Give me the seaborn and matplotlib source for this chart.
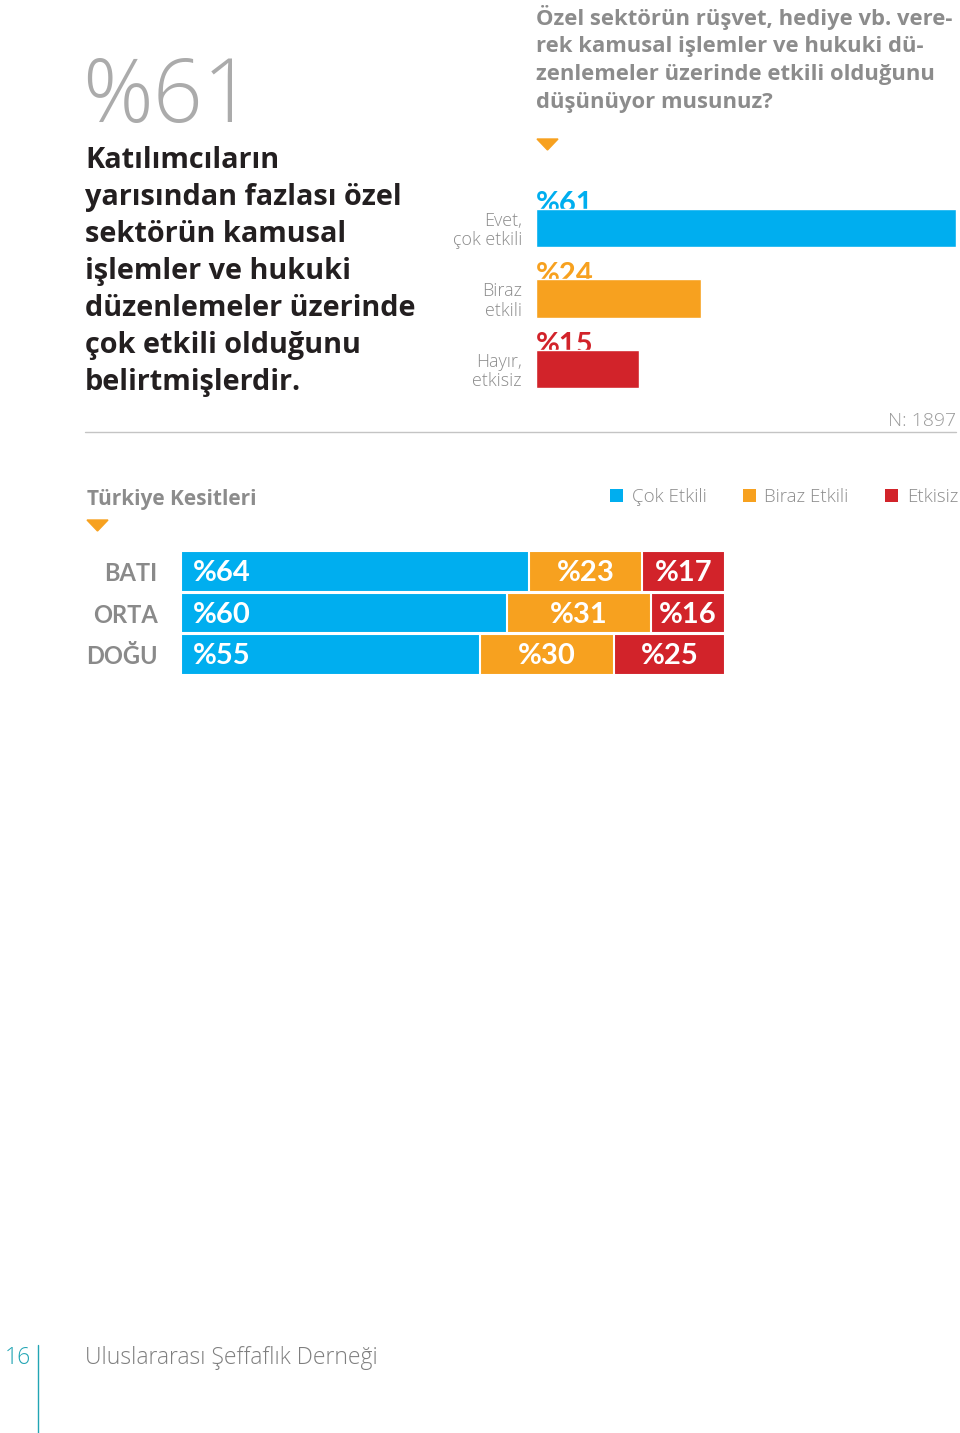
import matplotlib
matplotlib.use("Agg")
import matplotlib.pyplot as plt
import seaborn as sns
import numpy as np
import pandas as pd
from matplotlib.patches import Polygon, Patch
from matplotlib.lines import Line2D

# ---------------- data ----------------
q_categories = ["Evet,\nçok etkili", "Biraz\netkili", "Hayır,\netkisiz"]
q_values = [61, 24, 15]
regions = ["BATI", "ORTA", "DOĞU"]
cok_etkili = [64, 60, 55]
biraz_etkili = [23, 31, 30]
etkisiz = [17, 16, 25]
legend_labels = ["Çok Etkili", "Biraz Etkili", "Etkisiz"]
sample_size = 1897
headline_value = 61

# ---------------- style ----------------
BLUE = "#00AEEF"
ORANGE = "#F7A11F"
RED = "#D2232A"
GRAY = "#8C8C8C"
LIGHTGRAY = "#ABABAB"
TEAL = "#22A5B4"
DARK = "#231F20"

W, H = 960, 1433
sns.set_theme(style="white")
plt.rcParams["font.family"] = ["Open Sans", "DejaVu Sans"]
NARROW = ["Lato", "DejaVu Sans"]
fig = plt.figure(figsize=(W / 100, H / 100), dpi=100)


def fx(x):
    return x / W


def fy(y):
    return 1 - y / H


def rect(l, t, r, b):
    return [l / W, 1 - b / H, (r - l) / W, (b - t) / H]


# ---------------- left headline ----------------
fig.text(fx(82), fy(122), f"%{headline_value}", fontsize=63, color=LIGHTGRAY,
         fontweight="light", ha="left", va="baseline")
para = ["Katılımcıların", "yarısından fazlası özel", "sektörün kamusal",
        "işlemler ve hukuki", "düzenlemeler üzerinde", "çok etkili olduğunu",
        "belirtmişlerdir."]
for i, line in enumerate(para):
    fig.text(fx(85), fy(168 + 37 * i), line, fontsize=20.8, color=DARK,
             fontweight="bold", ha="left", va="baseline")

# ---------------- question ----------------
question = ["Özel sektörün rüşvet, hediye vb. vere-",
            "rek kamusal işlemler ve hukuki dü-",
            "zenlemeler üzerinde etkili olduğunu",
            "düşünüyor musunuz?"]
for i, line in enumerate(question):
    fig.text(fx(536), fy(24.5 + 27.7 * i), line, fontsize=15.8, color=GRAY,
             fontweight="bold", ha="left", va="baseline")

# triangles (decoration)
fig.patches.append(Polygon([[fx(537), fy(139)], [fx(558), fy(139)], [fx(547.5), fy(150)]],
                           closed=True, color=ORANGE, transform=fig.transFigure))
fig.patches.append(Polygon([[fx(87), fy(520)], [fx(108), fy(520)], [fx(97.5), fy(531)]],
                           closed=True, color=ORANGE, transform=fig.transFigure))

# ---------------- top bar chart ----------------
ax1 = fig.add_axes(rect(536, 192.75, 956, 404.25))
df1 = pd.DataFrame({"cat": q_categories, "val": q_values})
sns.barplot(data=df1, x="val", y="cat", hue="cat", palette=[BLUE, ORANGE, RED],
            legend=False, width=0.54, saturation=1, ax=ax1)
ax1.set_xlim(0, max(q_values))
ax1.set_ylim(2.5, -0.5)
ax1.patch.set_visible(False)
for s in ax1.spines.values():
    s.set_visible(False)
ax1.set_xticks([])
ax1.set_xlabel("")
ax1.set_ylabel("")
ax1.tick_params(axis="y", length=0, pad=10, labelsize=13, labelcolor=GRAY)
for lbl in ax1.get_yticklabels():
    lbl.set_fontweight("light")
    lbl.set_linespacing(1.08)
colors1 = [BLUE, ORANGE, RED]
for i, v in enumerate(q_values):
    ax1.text(0, i - 0.22, f"%{v}", color=colors1[i], fontsize=21, fontweight="bold",
             family=NARROW, ha="left", va="baseline", zorder=0.5, clip_on=False)

# N label and rule
fig.text(fx(956), fy(426), f"N: {sample_size}", fontsize=14, color="#9A9A9A",
         fontweight="light", ha="right", va="baseline")
fig.lines.append(Line2D([fx(85), fx(956)], [fy(432), fy(432)], color="#C4C4C4", lw=1,
                        transform=fig.transFigure))

# ---------------- Türkiye Kesitleri ----------------
fig.text(fx(87), fy(505), "Türkiye Kesitleri", fontsize=15, color=GRAY,
         fontweight="bold", ha="left", va="baseline")
handles = [Patch(facecolor=c, edgecolor="none") for c in (BLUE, ORANGE, RED)]
fig.legend(handles, legend_labels, loc="center right",
           bbox_to_anchor=(fx(975), fy(497)), ncol=3, frameon=False,
           handlelength=0.7, handleheight=0.7, handletextpad=0.45,
           columnspacing=1.95, labelcolor=GRAY, prop={"weight": "light", "size": 13.5})

# stacked bars: blue on its share of the full width, the remaining width split
# between "Biraz" and "Etkisiz" in their own proportion (as in the source layout)
ax2 = fig.add_axes(rect(181, 550.75, 725, 675.25))
df2 = pd.DataFrame({"region": regions, "cok": cok_etkili,
                    "biraz": biraz_etkili, "etkisiz": etkisiz})
rest = 100 - df2["cok"]
df2["w_biraz"] = rest * df2["biraz"] / (df2["biraz"] + df2["etkisiz"])
df2["c1"] = df2["cok"]
df2["c2"] = df2["c1"] + df2["w_biraz"]
df2["c3"] = 100 + 0 * df2["c2"]
for col, color in [("c3", RED), ("c2", ORANGE), ("c1", BLUE)]:
    sns.barplot(data=df2, x=col, y="region", color=color, saturation=1, width=0.97,
                edgecolor="white", linewidth=1.5, ax=ax2)
ax2.set_xlim(0, 100)
ax2.set_ylim(2.5, -0.5)
ax2.patch.set_visible(False)
for s in ax2.spines.values():
    s.set_visible(False)
ax2.set_xticks([])
ax2.set_xlabel("")
ax2.set_ylabel("")
ax2.tick_params(axis="y", length=0, pad=17, labelsize=17, labelcolor="#8A8A8A")
for lbl in ax2.get_yticklabels():
    lbl.set_fontweight("bold")
    lbl.set_family(NARROW)
for i, row in df2.iterrows():
    ax2.text(2.2, i + 0.04, f"%{row['cok']}", color="white", fontsize=21,
             fontweight="bold", family=NARROW, ha="left", va="center")
    xo = (row["c1"] + row["c2"]) / 2
    ax2.text(xo, i + 0.04, f"%{row['biraz']}", color="white", fontsize=21,
             fontweight="bold", family=NARROW, ha="center", va="center")
    xr = (row["c2"] + row["c3"]) / 2
    ax2.text(xr, i + 0.04, f"%{row['etkisiz']}", color="white", fontsize=21,
             fontweight="bold", family=NARROW, ha="center", va="center")

# ---------------- footer ----------------
fig.text(fx(5), fy(1364), "16", fontsize=16.5, color=TEAL, fontweight="light",
         ha="left", va="baseline")
fig.lines.append(Line2D([fx(38), fx(38)], [fy(1345), fy(1433)], color=TEAL, lw=1,
                        transform=fig.transFigure))
fig.text(fx(85), fy(1364), "Uluslararası Şeffaflık Derneği", fontsize=16.5,
         color="#7E7E7E", fontweight="light", ha="left", va="baseline")

fig.savefig("out.png", dpi=100)
